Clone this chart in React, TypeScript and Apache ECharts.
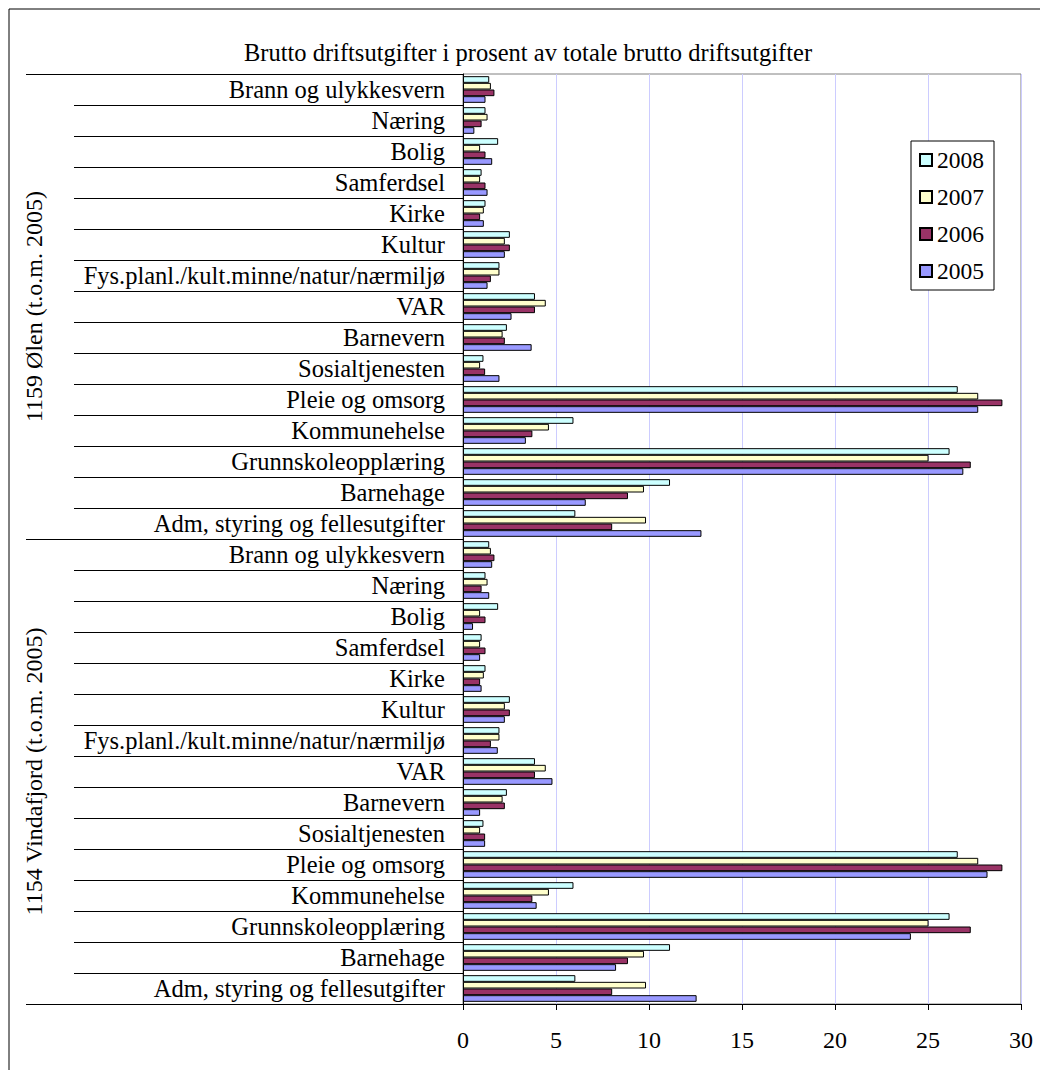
import React, { useEffect, useRef } from "react";
import * as echarts from "echarts";

const chartTitle = "Brutto driftsutgifter i prosent av totale brutto driftsutgifter";
// groups, top to bottom
const groups = ["1159 Ølen (t.o.m. 2005)", "1154 Vindafjord (t.o.m. 2005)"];
// services inside each group, top to bottom
const services = [
  "Brann og ulykkesvern",
  "Næring",
  "Bolig",
  "Samferdsel",
  "Kirke",
  "Kultur",
  "Fys.planl./kult.minne/natur/nærmiljø",
  "VAR",
  "Barnevern",
  "Sosialtjenesten",
  "Pleie og omsorg",
  "Kommunehelse",
  "Grunnskoleopplæring",
  "Barnehage",
  "Adm, styring og fellesutgifter",
];
const years = ["2008", "2007", "2006", "2005"];
const xTicks = [0, 5, 10, 15, 20, 25, 30];

// 1159 Ølen
const olen2008 = [1.41, 1.21, 1.89, 1.0, 1.21, 2.52, 1.96, 3.87, 2.36, 1.1, 26.6, 5.94, 26.16, 11.13, 6.04];
const olen2007 = [1.5, 1.32, 0.92, 0.92, 1.12, 2.25, 1.96, 4.45, 2.13, 0.92, 27.7, 4.62, 25.03, 9.73, 9.84];
const olen2006 = [1.69, 1.0, 1.21, 1.21, 0.92, 2.52, 1.5, 3.87, 2.25, 1.19, 29.0, 3.73, 27.3, 8.87, 8.02];
const olen2005 = [1.21, 0.61, 1.57, 1.32, 1.12, 2.25, 1.32, 2.61, 3.69, 1.96, 27.7, 3.38, 26.9, 6.6, 12.82];
// 1154 Vindafjord
const vinda2008 = [1.41, 1.21, 1.89, 1.0, 1.21, 2.52, 1.96, 3.87, 2.36, 1.1, 26.6, 5.94, 26.16, 11.13, 6.04];
const vinda2007 = [1.5, 1.32, 0.92, 0.92, 1.12, 2.25, 1.96, 4.45, 2.13, 0.92, 27.7, 4.62, 25.03, 9.73, 9.84];
const vinda2006 = [1.69, 1.0, 1.21, 1.21, 0.92, 2.52, 1.5, 3.87, 2.25, 1.19, 29.0, 3.73, 27.3, 8.87, 8.02];
const vinda2005 = [1.57, 1.41, 0.54, 0.92, 1.0, 2.25, 1.87, 4.81, 0.92, 1.19, 28.2, 3.96, 24.08, 8.23, 12.56];

const yearColors = ["#CCFFFF", "#FFFFCC", "#993366", "#9999FF"];

const FONT = "Liberation Serif, Times New Roman, serif";

export default function App() {
  const ref = useRef<HTMLDivElement>(null);

  useEffect(() => {
    if (!ref.current) return;
    const chart = echarts.init(ref.current, undefined, { renderer: "svg" });

    const categories = [...services, ...services];
    const seriesData = [
      [...olen2008, ...vinda2008],
      [...olen2007, ...vinda2007],
      [...olen2006, ...vinda2006],
      [...olen2005, ...vinda2005],
    ];

    const option: any = {
      animation: false,
      backgroundColor: "#ffffff",
      textStyle: { fontFamily: FONT, color: "#000" },
      graphic: [
        {
          type: "rect",
          shape: { x: 9, y: 9, width: 1100, height: 1100 },
          style: { fill: "none", stroke: "#000", lineWidth: 1 },
          silent: true,
        },
        {
          type: "text",
          x: 528,
          y: 52,
          style: {
            text: chartTitle,
            font: `24.5px ${FONT}`,
            fill: "#000",
            align: "center",
            verticalAlign: "middle",
          },
        },
      ],
      legend: {
        data: years,
        orient: "vertical",
        left: 911,
        top: 141,
        backgroundColor: "#fff",
        borderColor: "#000",
        borderWidth: 1,
        padding: [7, 10, 7, 8],
        itemWidth: 12,
        itemHeight: 12,
        itemGap: 13,
        icon: "rect",
        textStyle: { fontFamily: FONT, fontSize: 23.5, color: "#000" },
      },
      grid: {
        left: 463,
        top: 74,
        right: 19,
        bottom: 66,
        show: true,
        borderColor: "#808080",
        borderWidth: 1,
        backgroundColor: "transparent",
      },
      xAxis: {
        type: "value",
        min: xTicks[0],
        max: xTicks[xTicks.length - 1],
        interval: 5,
        axisLine: { show: true, lineStyle: { color: "#000", width: 1 } },
        axisTick: { show: true, length: 6, lineStyle: { color: "#000" } },
        axisLabel: { fontFamily: FONT, fontSize: 24, color: "#000", margin: 24 },
        splitLine: { show: true, lineStyle: { color: "#ccccff", width: 1 } },
      },
      yAxis: [
        {
          type: "category",
          data: categories,
          inverse: true,
          position: "left",
          axisLine: { show: true, lineStyle: { color: "#000", width: 1 } },
          axisTick: { show: true, length: 389, lineStyle: { color: "#000", width: 1 } },
          axisLabel: { fontFamily: FONT, fontSize: 24.5, color: "#000", margin: 18, interval: 0 },
          splitLine: { show: false },
        },
        {
          type: "category",
          data: groups,
          inverse: true,
          position: "left",
          offset: 0,
          axisLine: { show: false },
          axisTick: { show: true, length: 437, lineStyle: { color: "#000", width: 1 } },
          axisLabel: { fontFamily: FONT, fontSize: 24, color: "#000", rotate: 90, margin: 417, interval: 0 },
          splitLine: { show: false },
        },
      ],
      series: years.map((y, i) => ({
        name: y,
        type: "bar",
        yAxisIndex: 0,
        data: seriesData[i],
        barGap: "0%",
        barCategoryGap: "14%",
        itemStyle: { color: yearColors[i], borderColor: "#000", borderWidth: 1 },
      })),
    };

    chart.setOption(option);
    return () => chart.dispose();
  }, []);

  return (
    <div
      ref={ref}
      style={{ position: "fixed", left: 0, top: 0, width: 1040, height: 1070 }}
    />
  );
}
